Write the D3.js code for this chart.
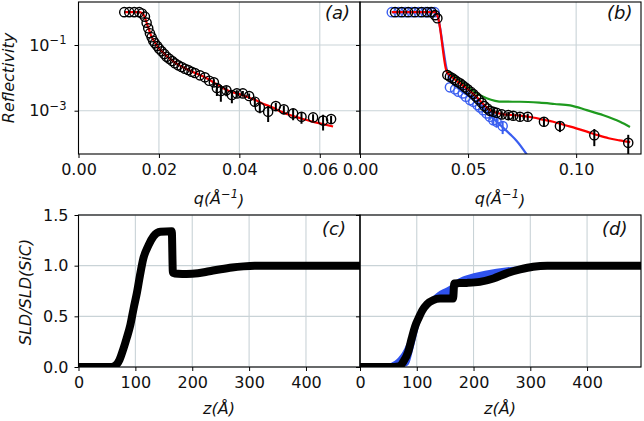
<!DOCTYPE html>
<html><head><meta charset="utf-8">
<script src="https://cdn.jsdelivr.net/npm/d3@7"></script>
<style>body{margin:0;background:#fff}svg{display:block;font-family:'DejaVu Sans',sans-serif}</style>
</head><body><svg id="chart" width="644" height="421"></svg>
<script>
// ---------- DATA ----------
// Panel (a): measured reflectivity
const qA = [0.01138,0.01262,0.01386,0.0151,0.01578,0.01652,0.01694,0.01734,0.01776,0.01819,0.01858,0.019,0.01958,0.02007,0.02067,0.02132,0.02191,0.02256,0.0233,0.02398,0.0248,0.02564,0.02646,0.02728,0.02812,0.02894,0.03019,0.03143,0.0325,0.03366,0.03441,0.0354,0.03677,0.03814,0.03938,0.04087,0.04243,0.04385,0.04509,0.04716,0.04907,0.05106,0.05337,0.05545,0.05833,0.06082,0.06281];
const rA = [1.0,1.0,1.0,1.0,0.91,0.73,0.48,0.323,0.228,0.172,0.135,0.113,0.093,0.077,0.0643,0.0532,0.044,0.0382,0.0325,0.0277,0.024,0.0213,0.0189,0.0173,0.0153,0.014,0.0119,0.01035,0.00816,0.0073,0.00489,0.00396,0.00416,0.00299,0.00336,0.00336,0.00279,0.00187,0.00126,0.000925,0.00138,0.0011,0.000828,0.000652,0.000625,0.000499,0.000555];
const eA = [0,0,0,0,0,0,0,0,0,0,0,0,0,0,0,0,0,0,0,0,0,0,0,0,0,0,0,0,0,0.0018,0.0021,0.0021,0.0014,0.0013,0.00082,0.00064,0.00053,0.00055,0.00043,0.00047,0.00034,0.00032,0.00032,0.00025,0.00015,0.00025,0.00014];
// Panel (a): fit
const fitAq = [0.0115,0.015,0.0158,0.0165,0.017,0.0175,0.018,0.019,0.020,0.021,0.022,0.023,0.024,0.026,0.028,0.030,0.032,0.034,0.036,0.038,0.040,0.042,0.044,0.046,0.048,0.050,0.052,0.054,0.056,0.058,0.060,0.0633];
const fitAr = [1.0,1.0,0.95,0.7,0.45,0.3,0.2,0.12,0.08,0.06,0.045,0.036,0.029,0.021,0.016,0.0125,0.0095,0.0068,0.0048,0.0037,0.0032,0.0026,0.0021,0.0016,0.0013,0.00097,0.00078,0.00065,0.00055,0.00047,0.00041,0.00033];

// Panel (b): black data
const qB = [0.0162,0.0193,0.0223,0.0254,0.0285,0.0311,0.0332,0.0347,0.0358,0.0404,0.0416,0.0429,0.0439,0.045,0.0463,0.0475,0.0486,0.0498,0.0512,0.0524,0.0537,0.0549,0.0563,0.0575,0.0589,0.0601,0.0617,0.0632,0.0656,0.0686,0.0709,0.074,0.0776,0.0851,0.0925,0.1084,0.1241];
const rB = [1,1,1,1,1,1,1,0.81,0.65,0.01216,0.0108,0.00964,0.00857,0.00762,0.00679,0.0059,0.00513,0.00446,0.00377,0.00321,0.00266,0.00221,0.00174,0.00138,0.00117,0.00099,0.000925,0.000863,0.00077,0.000734,0.0007,0.000652,0.000652,0.000459,0.000339,0.00018,0.000105];
const eB = [0,0,0,0,0,0,0,0,0,0,0,0,0,0,0,0,0,0,0,0,0,0,0,0,0,0,0.00018,0.00016,0.00019,0.00018,0.00017,0.00016,0.00016,0.000135,0.000116,0.0000967,0.0000792];
// Panel (b): blue data
const qBb = [0.0147,0.0178,0.0209,0.024,0.0271,0.0302,0.0325,0.0345,0.0416,0.044,0.0455,0.0475,0.049,0.0509,0.0524,0.0543,0.0555,0.057,0.0586,0.0601,0.0617,0.0632,0.066];
const rBb = [1,1,1,1,1,1,1,1,0.00513,0.00446,0.00377,0.00336,0.00266,0.0021,0.00187,0.00148,0.00126,0.00104,0.000828,0.000652,0.000516,0.000459,0.000339];
const eBb = [0,0,0,0,0,0,0,0,0,0,0,0,0,0,0,0,0,0,0,0.000124,0.000152,0.000157,0.000145];
// Panel (b): model curves
const fitRq = [0.0147,0.035,0.0362,0.0401,0.042,0.045,0.048,0.051,0.054,0.057,0.060,0.063,0.066,0.070,0.074,0.080,0.085,0.0894,0.095,0.100,0.105,0.110,0.115,0.120,0.125];
const fitRr = [1,1,0.65,0.0154,0.0115,0.0078,0.0056,0.0039,0.0026,0.0016,0.00105,0.00087,0.00079,0.00074,0.00071,0.00062,0.00053,0.00046,0.00036,0.00029,0.00023,0.00018,0.000145,0.000125,0.00011];
const fitBq = [0.0147,0.034,0.0355,0.037,0.0385,0.040,0.0415,0.044,0.047,0.051,0.055,0.0586,0.062,0.0663,0.0695,0.0725,0.0768,0.079];
const fitBr = [1,1,0.9,0.35,0.08,0.02,0.0095,0.0058,0.0039,0.0026,0.0015,0.00085,0.00055,0.0003,0.00019,0.00012,0.00005,0.00003];
const fitGq = [0.0401,0.044,0.0478,0.051,0.054,0.0586,0.0625,0.0663,0.074,0.083,0.090,0.0972,0.1049,0.1126,0.1203,0.1249];
const fitGr = [0.0173,0.0105,0.0068,0.0047,0.0034,0.0024,0.002,0.00188,0.00187,0.00175,0.0016,0.00145,0.00104,0.00073,0.00046,0.00032];

// Panel (c): SLD profile
const zC = [0,58,65,72,79,85,91,97,103,108,114,123,132,144,164,166,175,190,210,230,250,270,290,310,330,495];
const sldC = [0,0,0.015,0.07,0.18,0.29,0.41,0.58,0.74,0.9,1.07,1.2,1.29,1.335,1.34,0.93,0.92,0.918,0.925,0.945,0.965,0.982,0.993,0.999,1.0,1.0];
// Panel (d): SLD profile + band
const zD = [0,60,70,76,85,91,97,103,110,118,129,141,155,164,166,175,188,211,235,258,282,305,330,495];
const sldD = [0,0,0.01,0.05,0.15,0.28,0.40,0.48,0.56,0.62,0.66,0.675,0.675,0.675,0.825,0.828,0.83,0.84,0.874,0.924,0.963,0.99,1.0,1.0];
const bandZ  = [0,30,50,65,75,85,95,105,115,125,140,160,170,185,200,220,240,260,280,300,320,340,495];
const bandHi = [0,0.005,0.03,0.08,0.15,0.27,0.4,0.52,0.61,0.68,0.75,0.81,0.86,0.9,0.925,0.95,0.97,0.985,0.995,1.0,1.0,1.0,1.0];
const bandLo = [0,0,0,0,0,0.02,0.2,0.42,0.55,0.62,0.655,0.67,0.79,0.81,0.82,0.85,0.88,0.92,0.955,0.985,0.998,1.0,1.0];

// Ticks
const ticksQa = [0,0.02,0.04,0.06];
const ticksQb = [0,0.05,0.10];
const ticksR = [1e-1,1e-3];
const ticksZ = [0,100,200,300,400];
const ticksS = [0,0.5,1.0,1.5];

// ---------- LAYOUT ----------
const svg = d3.select('#chart');
const P = {
  a:{x0:78.5,x1:360,y0:2,y1:154},
  b:{x0:360,x1:641,y0:2,y1:154},
  c:{x0:78.5,x1:360,y0:215,y1:367},
  d:{x0:360,x1:641,y0:215,y1:367}
};
const gridCol = '#c9d3d7';
const RED='#ff0000', BLUE='#3a5ef0', GREEN='#1e9a1e', BAND='#2f52ee';

const xA = d3.scaleLinear().domain([0,0.07]).range([P.a.x0,P.a.x1]);
const xB = d3.scaleLinear().domain([0,0.13]).range([P.b.x0,P.b.x1]);
const yR = d3.scaleLog().domain([4.8e-5,2.04]).range([P.a.y1,P.a.y0]);
const xC = d3.scaleLinear().domain([0,495]).range([P.c.x0,P.c.x1]);
const xD = d3.scaleLinear().domain([0,495]).range([P.d.x0,P.d.x1]);
const yS = d3.scaleLinear().domain([0,1.5]).range([P.c.y1,P.c.y0]);

function clip(id,p){
  svg.append('clipPath').attr('id',id).append('rect')
    .attr('x',p.x0).attr('y',p.y0).attr('width',p.x1-p.x0).attr('height',p.y1-p.y0);
}
['a','b','c','d'].forEach(k=>clip('clip'+k,P[k]));

function grid(p,xs,xt,ys,yt){
  const g = svg.append('g');
  xt.forEach(t=>g.append('line').attr('x1',xs(t)).attr('x2',xs(t)).attr('y1',p.y0).attr('y2',p.y1)
    .attr('stroke',gridCol).attr('stroke-width',1.1));
  yt.forEach(t=>g.append('line').attr('x1',p.x0).attr('x2',p.x1).attr('y1',ys(t)).attr('y2',ys(t))
    .attr('stroke',gridCol).attr('stroke-width',1.1));
}
grid(P.a,xA,ticksQa,yR,ticksR);
grid(P.b,xB,ticksQb,yR,ticksR);
grid(P.c,xC,ticksZ,yS,ticksS);
grid(P.d,xD,ticksZ,yS,ticksS);

// ---------- MARKS ----------
function lineXY(xs,ys,X,Y){
  return d3.line().x((d,i)=>xs(X[i])).y((d,i)=>ys(Y[i])).curve(d3.curveMonotoneX)(X);
}
function circles(g,xs,ys,X,Y,E,col){
  X.forEach((q,i)=>{
    if(E[i]>0){
      const lo = Math.max(Y[i]-E[i],1e-7);
      g.append('line').attr('x1',xs(q)).attr('x2',xs(q)).attr('y1',ys(lo)).attr('y2',ys(Y[i]+E[i]))
        .attr('stroke',col).attr('stroke-width',2);
    }
  });
  X.forEach((q,i)=>{
    g.append('circle').attr('cx',xs(q)).attr('cy',ys(Y[i])).attr('r',4.6)
      .attr('fill','none').attr('stroke',col).attr('stroke-width',1.4);
  });
}

// (a)
const ga = svg.append('g').attr('clip-path','url(#clipa)');
ga.append('path').attr('d',lineXY(xA,yR,fitAq,fitAr)).attr('fill','none').attr('stroke',RED).attr('stroke-width',2.2);
circles(ga,xA,yR,qA,rA,eA,'#000');

// (b)
const gb = svg.append('g').attr('clip-path','url(#clipb)');
circles(gb,xB,yR,qBb,rBb,eBb,BLUE);
gb.append('path').attr('d',lineXY(xB,yR,fitBq,fitBr)).attr('fill','none').attr('stroke',BLUE).attr('stroke-width',2.2);
gb.append('path').attr('d',lineXY(xB,yR,fitGq,fitGr)).attr('fill','none').attr('stroke',GREEN).attr('stroke-width',2.2);
gb.append('path').attr('d',lineXY(xB,yR,fitRq,fitRr)).attr('fill','none').attr('stroke',RED).attr('stroke-width',2.2);
circles(gb,xB,yR,qB,rB,eB,'#000');

// (c)
const gc = svg.append('g').attr('clip-path','url(#clipc)');
gc.append('path').attr('d',lineXY(xC,yS,zC,sldC)).attr('fill','none').attr('stroke','#000').attr('stroke-width',8);

// (d)
const gd = svg.append('g').attr('clip-path','url(#clipd)');
gd.append('path').attr('d',d3.area().x((d,i)=>xD(bandZ[i])).y0((d,i)=>yS(bandLo[i])).y1((d,i)=>yS(bandHi[i])).curve(d3.curveMonotoneX)(bandZ))
  .attr('fill',BAND).attr('stroke','none');
gd.append('path').attr('d',lineXY(xD,yS,zD,sldD)).attr('fill','none').attr('stroke','#000').attr('stroke-width',8);

// ---------- AXES ----------
function frame(p){
  svg.append('rect').attr('x',p.x0).attr('y',p.y0).attr('width',p.x1-p.x0).attr('height',p.y1-p.y0)
    .attr('fill','none').attr('stroke','#000').attr('stroke-width',1.1);
}
function styleAxis(g){
  g.select('.domain').remove();
  g.selectAll('.tick line').attr('stroke','#000').attr('stroke-width',1);
  g.selectAll('.tick text').attr('fill','#111').style('font-size','16px').style('font-family',"'DejaVu Sans',sans-serif");
}
function xAxis(p,xs,ticks,fmt){
  const g = svg.append('g').attr('transform',`translate(0,${p.y1})`)
    .call(d3.axisBottom(xs).tickValues(ticks).tickSize(4).tickPadding(6).tickFormat(fmt));
  styleAxis(g);
}
xAxis(P.a,xA,ticksQa,d3.format('.2f'));
xAxis(P.b,xB,ticksQb,d3.format('.2f'));
xAxis(P.c,xC,ticksZ,d3.format('d'));
xAxis(P.d,xD,ticksZ,d3.format('d'));

function yAxisLog(p,labels){
  const g = svg.append('g').attr('transform',`translate(${p.x0},0)`)
    .call(d3.axisLeft(yR).tickValues(ticksR).tickSize(4).tickPadding(8).tickFormat(()=>''));
  styleAxis(g);
  if(labels){
    g.selectAll('.tick text').each(function(d){
      const t = d3.select(this);
      const e = Math.round(Math.log10(d));
      t.text(null);
      t.append('tspan').text('10');
      t.append('tspan').attr('dy','-0.55em').style('font-size','11.5px').text('\u2212'+Math.abs(e));
    });
  }
}
yAxisLog(P.a,true);
yAxisLog(P.b,false);

function yAxisLin(p,labels){
  const g = svg.append('g').attr('transform',`translate(${p.x0},0)`)
    .call(d3.axisLeft(yS).tickValues(ticksS).tickSize(4).tickPadding(6).tickFormat(labels?d3.format('.1f'):()=>''));
  styleAxis(g);
}
yAxisLin(P.c,true);
yAxisLin(P.d,false);

['a','b','c','d'].forEach(k=>frame(P[k]));

// ---------- LABELS ----------
const lab = svg.append('g').style('font-family',"'DejaVu Sans',sans-serif").attr('fill','#111');
function qLabel(cx,y){
  const t = lab.append('text').attr('x',cx).attr('y',y).attr('text-anchor','middle').style('font-size','16px').style('font-style','italic');
  t.append('tspan').text('q(Å');
  t.append('tspan').attr('dy','-0.5em').style('font-size','11.5px').text('\u22121');
  t.append('tspan').attr('dy','0.5em').text(')');
}
qLabel(219,204);
qLabel(500,204);
lab.append('text').attr('x',219).attr('y',414).attr('text-anchor','middle').style('font-size','16px').style('font-style','italic').text('z(Å)');
lab.append('text').attr('x',500).attr('y',414).attr('text-anchor','middle').style('font-size','16px').style('font-style','italic').text('z(Å)');
lab.append('text').attr('transform','translate(14,78) rotate(-90)').attr('text-anchor','middle').style('font-size','16px').style('font-style','italic').text('Reflectivity');
lab.append('text').attr('transform','translate(31,292) rotate(-90)').attr('text-anchor','middle').style('font-size','16px').style('font-style','italic').text('SLD/SLD(SiC)');

const panelLabels = [['(a)',325,19],['(b)',607,19],['(c)',322,235],['(d)',602,235]];
panelLabels.forEach(([s,x,y])=>lab.append('text').attr('x',x).attr('y',y).style('font-size','18px').style('font-style','italic').text(s));
</script></body></html>
